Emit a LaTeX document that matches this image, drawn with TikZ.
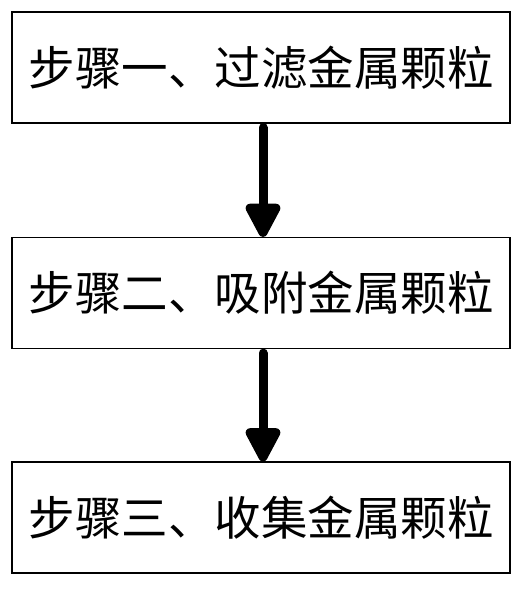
\documentclass[tikz,border=0pt]{standalone}
\usepackage{fontspec}
\newfontfamily\cjk{Noto Sans CJK SC}
\usetikzlibrary{arrows.meta}
\begin{document}
\begin{tikzpicture}[x=1pt,y=1pt,
  stepbox/.style={draw=black,line width=1.2pt,minimum width=498pt,minimum height=111pt,inner sep=0pt,font=\cjk\fontsize{46.5}{52}\selectfont},
  flow/.style={line width=9pt,line cap=round,-{Triangle[width=38pt,length=39pt,round=false]}}]
\useasboundingbox (0,0) rectangle (531,-589);
\node[stepbox] (s1) at (261,-67.5) {步骤一、过滤金属颗粒};
\node[stepbox] (s2) at (261,-293) {步骤二、吸附金属颗粒};
\node[stepbox] (s3) at (261,-517.5) {步骤三、收集金属颗粒};
\draw[flow] ([xshift=2pt,yshift=-4pt]s1.south) -- ([xshift=2pt]s2.north);
\draw[flow] ([xshift=2pt,yshift=-4pt]s2.south) -- ([xshift=2pt]s3.north);
\end{tikzpicture}
\end{document}
